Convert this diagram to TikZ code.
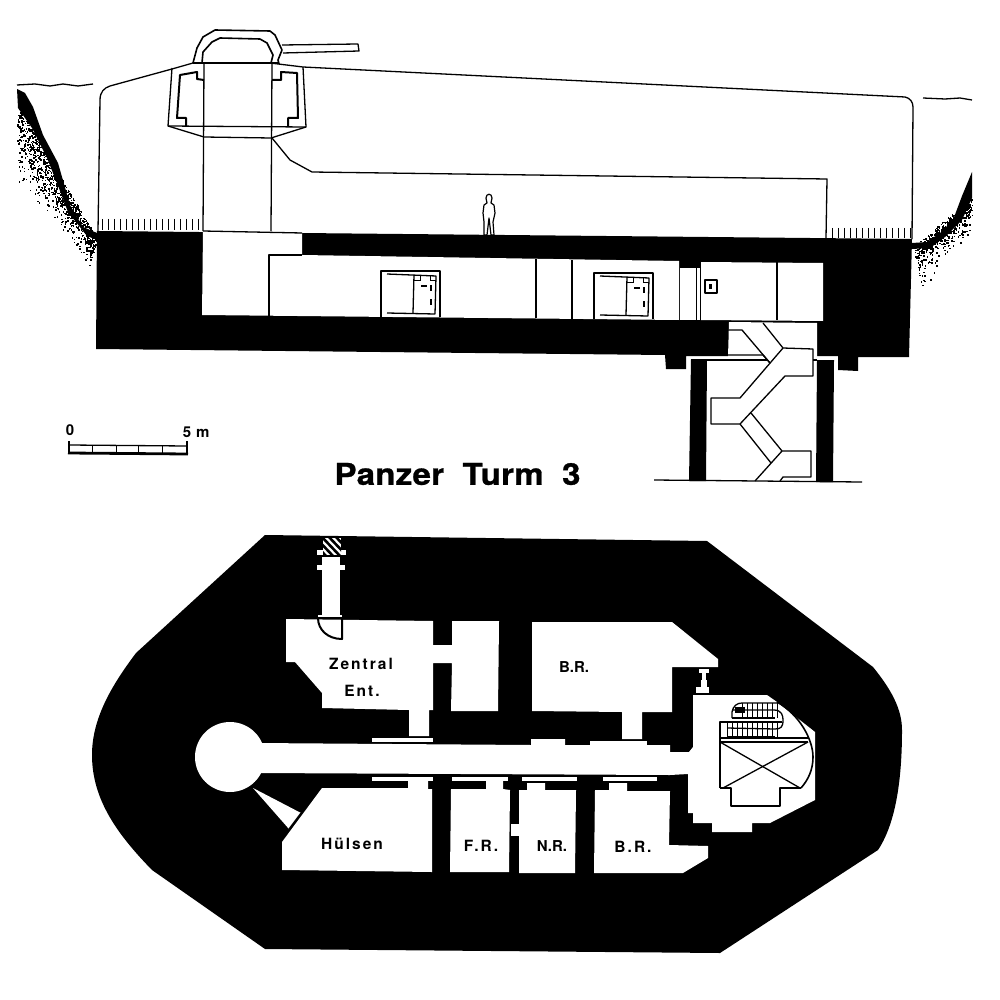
\documentclass[tikz,border=0pt]{standalone}
\usepackage{fontspec}
\setmainfont{TeX Gyre Heros}
\newfontfamily\roomfont[LetterSpace=13]{TeX Gyre Heros}
\newfontfamily\titlefont[FakeStretch=1.1,FakeBold=0.9,LetterSpace=1]{TeX Gyre Heros Bold}
\tikzset{
  mass/.style={fill=black, draw=none},
  room/.style={fill=white, draw=none},
  wall/.style={draw=black, line width=1.3pt, line join=round},
  bold wall/.style={draw=black, line width=2pt, line join=round},
  thin wall/.style={draw=black, line width=1pt},
  roomlabel/.style={font=\roomfont\bfseries\fontsize{15.5}{15.5}\selectfont, inner sep=0pt},
  tightlabel/.style={font=\bfseries\fontsize{15}{15}\selectfont, inner sep=0pt},
  scalelabel/.style={font=\bfseries\fontsize{15}{15}\selectfont, inner sep=0pt}
}
\begin{document}
\begin{tikzpicture}[x=1pt, y=-1pt]
  \useasboundingbox (0,0) rectangle (1000,1000);

  % ground and slopes
  \draw[wall] (17,85) -- (35,84) -- (50,86) -- (63,84) -- (78,86) -- (93,84);
  \draw[wall] (923,98) -- (945,99) -- (960,98) -- (972,100);
  \fill (17,89) -- (25,93) -- (33,107) -- (43,135) -- (58,163) -- (70,205) -- (83,227) -- (97,233)
    -- (97,240) -- (87,236) -- (68,212) -- (57,183) -- (47,158) -- (32,128) -- (18,108) -- cycle;
  \fill (972,172) -- (962,196) -- (953,220) -- (940,233) -- (927,242) -- (912,243) -- (912,249)
    -- (930,248) -- (945,237) -- (962,220) -- (972,198) -- cycle;
  \pgfmathsetseed{11}
  \foreach \i in {1,...,1000} {
    \pgfmathsetmacro{\tt}{rnd}
    \pgfmathsetmacro{\dd}{rnd*(0.25+0.75*rnd)*(60-30*\tt)}
    \pgfmathsetmacro{\px}{19+\tt*78-\dd*0.25}
    \pgfmathsetmacro{\py}{108+\tt*130+\dd}
    \ifdim \px pt>17pt \fill (\px,\py) rectangle ++(1.5,1.5); \fi
  }
  \foreach \i in {1,...,500} {
    \pgfmathsetmacro{\tt}{rnd}
    \pgfmathsetmacro{\dd}{rnd*(0.25+0.75*rnd)*(30+14*\tt)}
    \pgfmathsetmacro{\px}{971-\tt*58+\dd*0.2}
    \pgfmathsetmacro{\py}{198+\tt*48+\dd}
    \ifdim \px pt<972pt \fill (\px,\py) rectangle ++(1.5,1.5); \fi
  }

  % section, black mass
  \fill[mass] (97,231) -- (912,239) -- (909,357) -- (858,357) -- (858,371) -- (838,370) -- (838,356)
    -- (686,356) -- (686,369) -- (666,369) -- (665,355) -- (96,349) -- cycle;
  \fill[mass] (691,359) -- (707,359) -- (706,481) -- (689,481) -- cycle;
  \fill[mass] (817,360) -- (834,360) -- (833,482) -- (816,482) -- cycle;

  % section, bunker outline
  \draw[wall] (98,231) -- (100,100) .. controls (100,92) and (104,88) .. (110,86) -- (172,69)
    -- (193,63) -- (270,63) -- (303,67) -- (905,97) .. controls (910,98) and (913,102) .. (913,107) -- (912,239);
  \draw[wall] (272,138) -- (290,160) -- (312,172) -- (827,179) -- (826,238);
  \draw[wall] (204,63) -- (203,231);
  \draw[wall] (272,63) -- (271,231);
  \foreach \hx in {102,108,114,...,198} {
    \draw[thin wall] (\hx,219) -- (\hx,230);
  }
  \foreach \hx in {832,838,...,910} {
    \draw[thin wall] (\hx,228) -- (\hx,238);
  }

  % cupola and gun
  \draw[wall, fill=white] (282,45) -- (358,44) -- (359,51) -- (283,53);
  \draw[wall, line width=1.6pt, fill=white] (193,63) -- (197,48) -- (203,37) -- (215,30) -- (270,31) -- (275,35) -- (282,50) -- (278,60) -- (279,64);
  \draw[wall, line width=1.6pt] (202,63) -- (203,52) -- (212,42) -- (220,38) -- (260,39) -- (267,43) -- (273,55) -- (271,63);
  \draw[wall] (193,63) -- (279,63);

  % collar
  \draw[wall] (172,68) -- (168,126) -- (204,137) -- (271,138) -- (306,127) -- (303,67);
  \draw[wall] (168,126) -- (306,127);
  \draw[bold wall] (204,80) -- (197,79) -- (197,72) -- (180,75) -- (177,118) -- (186,118) -- (186,126);
  \draw[bold wall] (272,80) -- (281,80) -- (281,72) -- (297,73) -- (298,118) -- (288,118) -- (288,127);

  % person
  \draw[wall, line width=1.2pt, fill=white] (484,235) -- (484,222) -- (483,213) -- (484,205) -- (487,203)
    -- (486,198) .. controls (486,193) and (492,193) .. (492,198) -- (491,203) -- (494,205) -- (495,213)
    -- (493,222) -- (494,235) -- (491,235) -- (489,218) -- (487,235) -- cycle;

  % section, gallery
  \fill[room] (203,231) -- (302,233) -- (302,255) -- (679,261) -- (679,320) -- (202,315) -- cycle;
  \fill[room] (680,268) -- (696,268) -- (696,320) -- (680,320) -- cycle;
  \fill[room] (697,268) -- (700,268) -- (700,320) -- (697,320) -- cycle;
  \fill[room] (701,262) -- (823,263) -- (823,321) -- (701,320) -- cycle;
  \draw[wall] (203,231) -- (302,233);
  \draw[wall] (302,255) -- (269,255) -- (269,316);
  \draw[wall] (536,259) -- (536,318);
  \draw[wall] (572,260) -- (572,319);
  \draw[wall] (777,262) -- (777,320);
  \foreach \bx/\by in {381/271, 594/273} {
    \begin{scope}[shift={(\bx,\by)}]
      \draw[wall] (0,46) -- (0,0) -- (59,0) -- (59,46);
      \draw[wall] (6,3) -- (55,5) -- (54,43) -- (6,42);
      \draw[wall] (33,4) -- (32,42);
      \draw[thin wall] (33,9) -- (39,9) -- (39,5);
      \draw[thin wall] (49,5) -- (49,9.5) -- (55,9.5);
      \draw[wall] (40,15) -- (46,15);
      \draw[bold wall] (50,14) -- (50,20);
      \draw[bold wall] (50,28) -- (50,34);
    \end{scope}
  }
  \draw[wall] (705,280) rectangle (717,293);
  \fill (709,283.5) rectangle (712,288.5);

  % stair shaft
  \fill[room] (729,322) -- (817,323) -- (817,357) -- (728,357) -- cycle;
  \draw[wall] (707,360) -- (767,360);
  \draw[wall] (813,360) -- (817,360);
  \draw[wall] (654,480) -- (862,482);
  \draw[wall] (729,330) -- (742,330) -- (770,363);
  \draw[wall] (728,355) -- (763,355) -- (770,363);
  \draw[wall] (763,323) -- (783,348) -- (813,349) -- (813,376) -- (785,376) -- (740,424) -- (711,424) -- (711,398) -- (740,398) -- (783,348);
  \draw[wall] (751,413) -- (782,451) -- (811,451) -- (811,477) -- (783,477) -- (780,481);
  \draw[wall] (740,424) -- (771,463);
  \draw[wall] (782,451) -- (755,481);

  % scale bar
  \node[scalelabel] (scale0) at (70,430) {0};
  \node[scalelabel] (scale5) at (187,432) {5};
  \node[scalelabel, right=3pt] (scalem) at (193,433) {m};
  \draw[line width=1.5pt] (69,441) -- (69,453) (187,441) -- (187,453);
  \draw[line width=1.3pt] (69,445) -- (187,446);
  \draw[line width=2.8pt] (68,453) -- (188,454);
  \foreach \sx in {92,116,138,162} {
    \draw[line width=1pt] (\sx,445) -- (\sx,453);
  }

  % title
  \node[inner sep=0pt, font=\titlefont\fontsize{30}{30}\selectfont] (title) at (457.5,474) {Panzer\hspace{0.3em} Turm\hspace{0.3em} 3};

  % plan, black outline
  \fill[mass] (265,535) -- (707,541) -- (873,667) .. controls (890,688) and (902,708) .. (902,730)
    .. controls (902,770) and (898,820) .. (878,850) -- (720,953) -- (265,949) -- (152,870)
    .. controls (118,835) and (92,800) .. (92,755) .. controls (92,718) and (112,685) .. (136,653) -- cycle;

  % flue
  \fill[room] (317,550) rectangle (346,555);
  \fill[room] (322,557) rectangle (340,616);
  \fill[room] (317,565) rectangle (345,570);
  \fill[room] (318,615) rectangle (342,618);
  \begin{scope}
    \clip (323,538) rectangle (341,555);
    \fill[room] (323,538) rectangle (341,555);
    \foreach \fx in {300,307,...,345} {
      \draw[line width=2.6pt] (\fx,536) -- (\fx+20,557);
    }
  \end{scope}

  % plan, rooms
  \fill[room] (286,619) -- (433,621) -- (433,645) -- (452,645) -- (452,621) -- (499,621) -- (498,711)
    -- (451,711) -- (452,663) -- (433,663) -- (433,710) -- (429,710) -- (429,736) -- (409,736) -- (409,710)
    -- (322,708) -- (322,693) -- (295,662) -- (286,662) -- cycle;
  \draw[bold wall] (318,618) .. controls (318,630) and (328,639) .. (342,639) -- (342,618);
  \draw[wall] (318,618) -- (342,618);
  \fill[room] (372,737.5) rectangle (433,742);
  \fill[room] (230,757) circle [radius=35];
  \fill[room] (255,743) -- (531,745) -- (531,739) -- (565,739) -- (565,745) -- (670,745) -- (670,752) -- (689,752)
    -- (693,747) -- (693,695) -- (767,695) -- (777,702) -- (815,732) -- (815,800) -- (770,823) -- (752,823)
    -- (752,832) -- (712,832) -- (712,823) -- (693,823) -- (693,813) -- (688,813) -- (688,774) -- (670,775)
    -- (255,773) -- cycle;
  \fill[room] (532,622) -- (672,622) -- (718,659) -- (718,667) -- (672,667) -- (672,712) -- (642,712)
    -- (642,739) -- (622,739) -- (622,712) -- (532,711) -- cycle;
  \fill[room] (590,741) rectangle (647,745);
  \fill[room] (699,669) rectangle (709,673);
  \fill[room] (702,673) rectangle (706,680);
  \fill[room] (701,680) rectangle (707,687);
  \fill[room] (696,687) rectangle (709,692.5);

  \foreach \lx/\rx in {372/433, 452/508, 522/577, 603/657} {
    \fill[room] (\lx,777) rectangle (\rx,780.5);
  }
  \fill[room] (322,788) -- (408,788) -- (408,781) -- (428,781) -- (428,789) -- (432,789) -- (432,872) -- (282,870) -- (282,842) -- cycle;
  \fill[room] (253,788) -- (301,813) -- (289,829) -- cycle;
  \draw[wall] (301,813) -- (289,829);
  \fill[room] (451,789) -- (486,789) -- (486,781) -- (503,781) -- (503,789) -- (510,790) -- (509,872) -- (450,872) -- cycle;
  \fill[room] (511,824) rectangle (519,836);
  \fill[room] (519,790) -- (527,790) -- (527,783) -- (545,783) -- (545,790) -- (576,790) -- (575,873) -- (519,873) -- cycle;
  \fill[room] (595,790) -- (609,790) -- (609,783) -- (627,783) -- (627,791) -- (670,791) -- (669,845) -- (708,846) -- (708,858) -- (683,873) -- (594,873) -- cycle;

  % tower, lift and stairs
  \draw[wall, line width=1.6pt] (777,702) .. controls (800,715) and (813,740) .. (813,757) .. controls (813,770) and (808,780) .. (801,788);
  \draw[wall, line width=1.4pt] (720,788) -- (720,738) -- (808,738);
  \draw[wall, line width=1.4pt] (720,742) -- (808,742);
  \draw[wall, line width=1.4pt] (720,788) -- (731,788) -- (731,806) -- (780,806) -- (780,788) -- (801,788);
  \draw[wall] (720,742) -- (800,788);
  \draw[wall] (808,742) -- (723,788);
  \draw[wall] (720,738) -- (720,722) -- (782,722);
  \draw[bold wall, line width=1.3pt] (732,718) -- (732,712) .. controls (733,706) and (737,703) .. (742,703) -- (777,703);
  \draw[wall] (732,710) -- (774,710) .. controls (782,710) and (783,716) .. (783,720) .. controls (783,727) and (781,729) .. (775,729) -- (727,728);
  \draw[wall] (732,718) -- (775,718);
  \draw[wall] (727,737) -- (775,737);
  \foreach \tx in {742,747,...,777} {
    \draw[wall, line width=1pt] (\tx,703) -- (\tx,718);
  }
  \foreach \tx in {727,732,...,777} {
    \draw[wall, line width=1pt] (\tx,722) -- (\tx,737);
  }
  \fill (735,707) rectangle (745,713);

  % room labels
  \node[roomlabel] (zentral) at (361,664) {Zentral};
  \node[roomlabel] (ent) at (362,691) {Ent.};
  \node[roomlabel] (huelsen) at (352,844) {Hülsen};
  \node[tightlabel] (br upper) at (574,667) {B.R.};
  \node[roomlabel] (fr) at (481,846) {F.R.};
  \node[tightlabel] (nr) at (552,846) {N.R.};
  \node[roomlabel] (br lower) at (633,847) {B.R.};
\end{tikzpicture}
\end{document}
